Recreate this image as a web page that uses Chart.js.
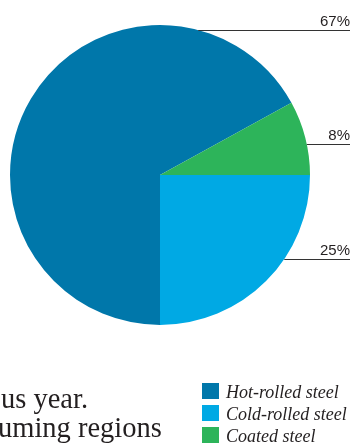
<!DOCTYPE html>
<html>
<head>
<meta charset="utf-8">
<script src="https://cdn.jsdelivr.net/npm/chart.js@4"></script>
<style>
    body { margin: 0; background: #fff; }
    #wrap { position: relative; width: 352px; height: 448px; overflow: hidden; }
    #steelChart { position: absolute; left: 0; top: 0; }
    .body-text {
        position: absolute;
        font-family: "Liberation Serif", "Times New Roman", serif;
        font-size: 28.5px;
        color: #231f20;
        white-space: nowrap;
    }
</style>
</head>
<body>
<div id="wrap">
    <canvas id="steelChart" width="352" height="448"></canvas>
    <div class="body-text" style="left:1px; top:383px;">us year.</div>
    <div class="body-text" style="left:-2px; top:412px;">uming regions</div>
</div>
<script>
const products = ["Hot-rolled steel", "Cold-rolled steel", "Coated steel"];
const shares = [67, 25, 8];
const sliceColors = ["#0077aa", "#00a9e4", "#2db45a"];

// slices go clockwise from 3 o'clock: cold-rolled, hot-rolled, coated
const drawOrder = [1, 0, 2];

// where each leader line meets the pie, as a fraction of the radius from the centre (vertical)
const leaderOffsets = [-0.967, 0.56, -0.207];

const total = shares.reduce((a, b) => a + b, 0);

// percentage labels sitting on lines that run out to the right edge
const leaderLabels = {
    id: "leaderLabels",
    afterDatasetsDraw(chart) {
        const ctx = chart.ctx;
        const meta = chart.getDatasetMeta(0);
        const right = chart.width - 2;
        ctx.save();
        drawOrder.forEach((p, i) => {
            const arc = meta.data[i];
            const r = arc.outerRadius;
            const dy = leaderOffsets[p] * r;
            const y = Math.round(arc.y + dy) + 0.5;
            const x = arc.x + Math.sqrt(r * r - dy * dy);
            ctx.strokeStyle = "#333";
            ctx.lineWidth = 1;
            ctx.beginPath();
            ctx.moveTo(x, y);
            ctx.lineTo(right, y);
            ctx.stroke();

            ctx.fillStyle = "#231f20";
            ctx.font = "15px 'Liberation Sans', Arial, sans-serif";
            ctx.textAlign = "right";
            ctx.textBaseline = "alphabetic";
            ctx.fillText(Math.round(shares[p] / total * 100) + "%", right, y - 5);
        });
        ctx.restore();
    }
};

// colour key in the lower right corner, in product order
const boxLegend = {
    id: "boxLegend",
    afterDraw(chart) {
        const ctx = chart.ctx;
        ctx.save();
        products.forEach((label, i) => {
            const top = 383 + i * 22;
            ctx.fillStyle = sliceColors[i];
            ctx.fillRect(202, top, 17, 16);
            ctx.fillStyle = "#231f20";
            ctx.font = "italic 18px 'Liberation Serif', 'Times New Roman', serif";
            ctx.textAlign = "left";
            ctx.textBaseline = "alphabetic";
            ctx.fillText(label, 226, top + 15);
        });
        ctx.restore();
    }
};

new Chart(document.getElementById("steelChart"), {
    type: "pie",
    data: {
        labels: drawOrder.map(p => products[p]),
        datasets: [{
            data: drawOrder.map(p => shares[p]),
            backgroundColor: drawOrder.map(p => sliceColors[p]),
            borderWidth: 0
        }]
    },
    options: {
        responsive: false,
        animation: false,
        devicePixelRatio: 1,
        rotation: 90,
        layout: {
            padding: { left: 10, right: 42, top: 25, bottom: 123 }
        },
        plugins: {
            legend: { display: false },
            tooltip: { enabled: false }
        }
    },
    plugins: [leaderLabels, boxLegend]
});
</script>
</body>
</html>
